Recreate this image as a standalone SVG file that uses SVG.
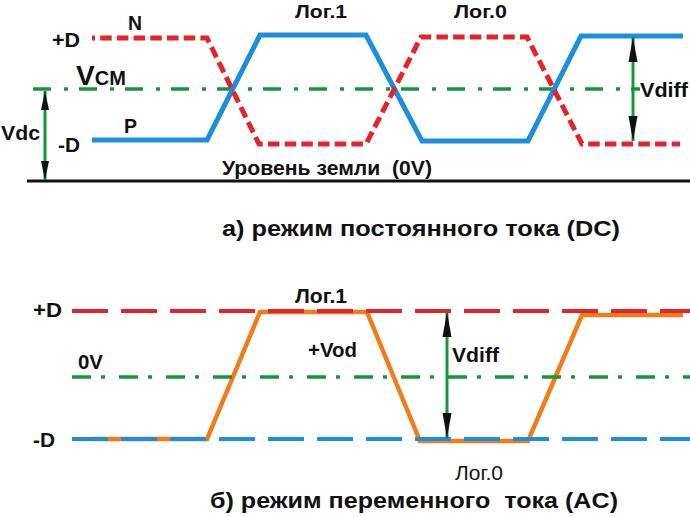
<svg xmlns="http://www.w3.org/2000/svg" width="690" height="517" viewBox="0 0 690 517">
<defs>
<style>
text{font-family:"Liberation Sans",Arial,sans-serif;font-weight:bold;fill:#111;}
.reg{font-weight:normal;}
.red{fill:none;stroke:#e3242b;stroke-width:5;stroke-dasharray:11.5 5.2;stroke-dashoffset:8.5;stroke-linejoin:miter;}
.blue{fill:none;stroke:#1b8fdc;stroke-width:5;stroke-linejoin:miter;}
.grn{fill:none;stroke:#17953a;stroke-width:3.5;}
.dd{stroke-dasharray:18 13 4 11;}
.dd2{stroke-dasharray:19 10 4 14;}
.rdash{fill:none;stroke:#e3242b;stroke-width:4;stroke-dasharray:36 13;}
.bdash{fill:none;stroke:#1b8fdc;stroke-width:4;stroke-dasharray:36 13;}
.org{fill:none;stroke:#ef7d1a;stroke-width:4.5;stroke-linejoin:miter;}
.arr{fill:none;stroke:#17953a;stroke-width:3;}
</style>
<marker id="ah" markerUnits="userSpaceOnUse" markerWidth="26" markerHeight="12" viewBox="0 -6 26 12" refX="25" refY="0" orient="auto-start-reverse"><path d="M0,-4.5 L25,0 L0,4.5 Z" fill="#111"/></marker>
<marker id="ahs" markerUnits="userSpaceOnUse" markerWidth="20" markerHeight="10" viewBox="0 -5 20 10" refX="19" refY="0" orient="auto-start-reverse"><path d="M0,-4 L19,0 L0,4 Z" fill="#111"/></marker>
</defs>

<g id="panel-dc">
  <line id="ground" x1="27" y1="181" x2="690" y2="181" stroke="#111" stroke-width="3"/>
  <line id="vcm-line" class="grn dd" x1="33" y1="89" x2="640" y2="89"/>
  <path id="signal-p" class="blue" d="M92,140 L207,140 L260,35 L366,35 L422,141 L528,141 L581,36 L683,36"/>
  <path id="signal-n" class="red" d="M92,38 L207,38 L259,144 L366,144 L421,37 L527,37 L582,144 L680,144"/>
  <text x="52" y="47" font-size="21" textLength="28" lengthAdjust="spacingAndGlyphs">+D</text>
  <text x="128" y="30" font-size="21" textLength="14" lengthAdjust="spacingAndGlyphs">N</text>
  <text x="76" y="85" font-size="28">V<tspan font-size="20">CM</tspan></text>
  <text x="1" y="140" font-size="21" textLength="39" lengthAdjust="spacingAndGlyphs">Vdc</text>
  <text x="58" y="152" font-size="21" textLength="22" lengthAdjust="spacingAndGlyphs">-D</text>
  <text x="124" y="133" font-size="21" textLength="13" lengthAdjust="spacingAndGlyphs">P</text>
  <text x="295" y="18" font-size="19" textLength="52" lengthAdjust="spacingAndGlyphs">Лог.1</text>
  <text x="454" y="18" font-size="19" textLength="53" lengthAdjust="spacingAndGlyphs">Лог.0</text>
  <text x="640" y="97" font-size="21" textLength="48" lengthAdjust="spacingAndGlyphs">Vdiff</text>
  <text x="222" y="175" font-size="20" textLength="210" lengthAdjust="spacingAndGlyphs" xml:space="preserve">Уровень земли  (0V)</text>
  <text x="222" y="236" font-size="22" textLength="398" lengthAdjust="spacingAndGlyphs">а) режим постоянного тока (DC)</text>
</g>

<g id="panel-ac">
  <path id="signal-ac" class="org" d="M92,439 L207,439 L260,312 L367,312 L420,441 L528,441 L582,315 L683,315"/>
  <line id="plus-d-line" class="rdash" x1="72" y1="311" x2="690" y2="311"/>
  <line id="minus-d-line" class="bdash" x1="72" y1="439" x2="690" y2="439"/>
  <line id="zero-line" class="grn dd2" x1="72" y1="377" x2="690" y2="377"/>
  <text x="33" y="317" font-size="21" textLength="29" lengthAdjust="spacingAndGlyphs">+D</text>
  <text x="78" y="369" font-size="21" textLength="25" lengthAdjust="spacingAndGlyphs">0V</text>
  <text x="33" y="447" font-size="21" textLength="22" lengthAdjust="spacingAndGlyphs">-D</text>
  <text x="295" y="303" font-size="20" textLength="52" lengthAdjust="spacingAndGlyphs">Лог.1</text>
  <text x="308" y="357" font-size="21" textLength="49" lengthAdjust="spacingAndGlyphs">+Vod</text>
  <text x="452" y="362" font-size="21" textLength="47" lengthAdjust="spacingAndGlyphs">Vdiff</text>
  <text class="reg" x="455" y="480" font-size="21" textLength="48" lengthAdjust="spacingAndGlyphs">Лог.0</text>
  <text x="210" y="508" font-size="22" textLength="408" lengthAdjust="spacingAndGlyphs" xml:space="preserve">б) режим переменного  тока (AC)</text>
</g>

<g id="connectors">
  <line id="vdc-arrow" class="arr" x1="45" y1="91" x2="45" y2="180" marker-start="url(#ahs)" marker-end="url(#ahs)"/>
  <line id="vdiff-dc-arrow" class="arr" x1="633" y1="37" x2="633" y2="141" marker-start="url(#ah)" marker-end="url(#ah)"/>
  <line id="vdiff-ac-arrow" class="arr" x1="447" y1="312" x2="447" y2="438" marker-start="url(#ah)" marker-end="url(#ah)"/>
</g>
</svg>
